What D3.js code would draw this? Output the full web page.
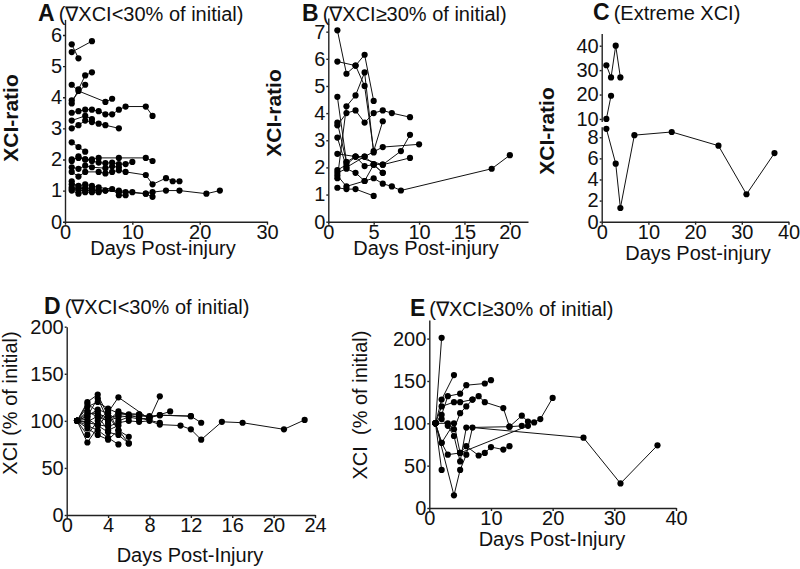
<!DOCTYPE html>
<html><head><meta charset="utf-8">
<script src="https://cdn.jsdelivr.net/npm/d3@7"></script>
<style>
body{margin:0;background:#fff;}
text{font-family:"Liberation Sans",Arial,sans-serif;fill:#111;}
</style></head>
<body><svg id="c" width="800" height="569"></svg>
<script>
// ---------- DATA ----------
// Panel A: XCI-ratio, decline <30% of initial (each series = [[day, ratio], ...])
const panelA = [
  [[1,5.7],[2,5.25]],
  [[1,5.45],[4,5.8]],
  [[1,3.8],[2,4.25],[3,4.7],[4,4.8]],
  [[1,4.4],[2,4.2],[6,3.85],[7,3.95]],
  [[1,3.9],[3,4.4]],
  [[1,3.5],[2,3.55],[3,3.6],[4,3.6],[5,3.55],[6,3.45],[7,3.45],[8,3.6],[9,3.7],[12,3.7],[13,3.4]],
  [[1,3.25],[3,3.4],[4,3.3]],
  [[1,3.0],[2,3.1],[3,3.25],[4,3.2],[5,3.15],[6,3.1],[8,3.0]],
  [[1,2.55],[2,2.4],[3,2.25]],
  [[1,2.0],[2,2.05],[3,2.0],[4,2.0],[5,2.05],[8,2.05],[12,2.05],[13,1.95]],
  [[1,1.95],[2,2.1],[3,2.0],[4,1.95],[5,1.9],[6,1.88],[7,1.9],[8,1.85],[9,1.85],[10,1.92]],
  [[1,1.75],[2,1.7],[3,1.8],[4,1.75],[6,1.72],[7,1.78],[8,1.75]],
  [[1,1.6],[2,1.45],[3,1.6],[5,1.6],[6,1.55],[7,1.6],[8,1.65],[9,1.6],[12,1.5],[13,1.2],[15,1.4],[16,1.3],[17,1.3]],
  [[1,1.05],[2,1.0],[3,1.0],[4,1.0],[5,1.0],[6,1.0],[8,1.0],[10,0.95],[12,0.9],[13,0.95],[15,1.0],[17,1.0],[21,0.9],[23,1.0]],
  [[1,1.2],[2,1.15],[3,1.2],[4,1.15],[5,1.1],[7,1.05],[8,0.85],[9,0.85]],
  [[1,1.3],[2,1.1],[3,1.05],[4,1.1],[5,1.0]],
  [[1,1.0],[2,0.9],[3,0.95],[4,0.95],[5,0.95],[6,1.0],[8,0.95],[9,0.95],[12,0.9],[13,0.8]],
  [[1,1.1],[2,1.05],[3,1.1],[4,1.0]]
];
// Panel B: XCI-ratio, decline >=30% of initial
const panelB = [
  [[1,7.05],[2,5.45],[3,5.75],[4,6.15],[5,4.45]],
  [[1,5.9],[3,5.75],[4,5.0],[5,2.6],[6,3.7]],
  [[1,1.6],[2,4.25],[3,4.65],[4,5.5],[5,2.55]],
  [[1,4.6],[2,2.2],[3,2.4],[4,2.05],[5,2.1],[6,1.8]],
  [[1,3.55],[2,4.0],[3,4.1],[4,3.65],[5,4.0],[6,4.1],[7,4.0],[9,3.85]],
  [[1,3.1],[2,2.0],[4,2.4],[6,2.75],[10,2.85]],
  [[1,2.5],[3,2.4],[4,2.4],[5,2.12],[6,2.1],[8,2.6],[9,3.2]],
  [[1,1.9],[2,2.1],[3,2.4],[6,2.1],[9,2.35]],
  [[1,1.8],[2,1.95],[3,1.8],[4,1.5],[5,1.6],[6,1.4],[7,1.3],[8,1.15],[18,1.95],[20,2.45]],
  [[1,1.7],[2,1.3],[4,1.5],[5,2.1],[6,1.8]],
  [[1,1.25],[2,1.2],[3,1.2],[5,0.95]],
  [[1,3.65],[2,2.2]]
];
// Panel C: extreme XCI (broken y axis)
const panelCLower = [
  [[1,8.8],[3,5.5],[4,1.3],[7,8.2],[15,8.5],[25,7.2],[31,2.6],[37,6.5]]
];
const panelCUpper = [
  [[1,32],[2,27],[3,40],[4,27]],
  [[1,10],[2,19.5]]
];
// Panel D: XCI % of initial, decline <30%
const panelD = [
  [[1,100],[2,77],[5,125],[8,102],[9,126]],
  [[1,100],[2,120],[3,128],[4,105],[6,76]],
  [[1,100],[2,110],[3,104],[4,100],[5,104],[6,105],[7,105],[8,105],[9,106],[12,105],[13,98]],
  [[1,100],[2,95],[3,90],[4,82],[5,75]],
  [[1,100],[2,105],[3,112],[4,108],[5,100],[6,104],[7,102],[8,103],[10,110]],
  [[1,100],[2,98],[3,96],[4,94],[5,98],[6,100],[7,99],[8,100],[9,96],[11,95],[12,91],[13,80],[15,99],[17,98],[21,91],[23,101]],
  [[1,100],[2,85],[3,100],[4,110],[5,90],[6,83]],
  [[1,100],[2,115],[3,120],[4,113],[5,108],[7,107],[8,104]],
  [[1,100],[2,102],[3,95],[4,88],[5,85],[6,76]],
  [[1,100],[2,108],[3,108],[4,103],[5,106],[6,107],[7,107],[8,104],[9,106],[12,105]],
  [[1,100],[2,92],[3,85],[4,80],[5,90]],
  [[1,100],[2,118],[3,110],[4,97]],
  [[1,100],[2,105],[3,124],[4,100],[5,110],[7,103],[9,98]],
  [[1,100],[2,99],[3,105],[4,90],[5,95]]
];
// Panel E: XCI % of initial, decline >=30%
const panelE = [
  [[1,100],[2,201]],
  [[1,100],[2,45]],
  [[1,100],[4,15],[5,45],[6,63],[7,95],[25,83],[31,29],[37,74]],
  [[1,100],[2,128],[4,157]],
  [[1,100],[2,110],[3,132],[5,135],[6,145],[9,147],[10,151]],
  [[1,100],[2,120],[4,125],[5,125],[7,128],[8,132],[9,125],[12,118],[13,96],[15,109],[16,102],[17,101],[18,105],[20,130]],
  [[1,100],[2,77],[3,63],[5,65],[6,73],[8,62],[9,65],[10,72],[12,69],[13,73]],
  [[1,100],[3,100],[4,93],[5,112],[6,120],[7,128]],
  [[1,100],[2,105],[3,97],[4,85],[5,55],[6,95],[13,96],[15,97]],
  [[1,100],[2,77],[4,100],[5,65],[16,97]]
];
// Tick labels
const ticksAy = [0,1,2,3,4,5,6], ticksAx = [0,10,20,30];
const ticksBy = [0,1,2,3,4,5,6,7], ticksBx = [0,5,10,15,20];
const ticksCyLow = [0,2,4,6,8], ticksCyUp = [10,20,30,40], ticksCx = [0,10,20,30,40];
const ticksDy = [0,50,100,150,200], ticksDx = [0,4,8,12,16,20,24];
const ticksEy = [0,50,100,150,200], ticksEx = [0,10,20,30,40];

// ---------- DRAW ----------
const svg = d3.select("#c");
const FS = 20;
const fmt = d3.format("d");

function axisStyle(g){
  g.selectAll("path,line").attr("stroke","#222").attr("stroke-width",1.4);
  g.selectAll("text").attr("font-size",FS).attr("fill","#111")
   .attr("font-family","'Liberation Sans',Arial,sans-serif");
}
function bottomAxis(x, ticks){
  return d3.axisBottom(x).tickValues(ticks).tickFormat(fmt).tickSize(3).tickPadding(0).tickSizeOuter(0);
}
function leftAxis(y, ticks){
  return d3.axisLeft(y).tickValues(ticks).tickFormat(fmt).tickSize(2).tickPadding(1).tickSizeOuter(0);
}
function drawSeries(series, x, y){
  const line = d3.line().x(d=>x(d[0])).y(d=>y(d[1]));
  const g = svg.append("g");
  g.selectAll("path.s").data(series).join("path")
    .attr("d", line).attr("fill","none").attr("stroke","#111").attr("stroke-width",1);
  g.selectAll("circle").data(series.flat()).join("circle")
    .attr("cx",d=>x(d[0])).attr("cy",d=>y(d[1])).attr("r",3.1).attr("fill","#000");
}
function panel(o){
  const x = d3.scaleLinear().domain(o.xd).range(o.xr);
  const y = d3.scaleLinear().domain(o.yd).range(o.yr);
  axisStyle(svg.append("g").attr("transform",`translate(0,${o.yr[0]})`).call(bottomAxis(x,o.xt)));
  axisStyle(svg.append("g").attr("transform",`translate(${o.xr[0]},0)`).call(leftAxis(y,o.yt)));
  drawSeries(o.data, x, y);
  return {x,y};
}
function label(t, x, y, opts={}){
  const el = svg.append("text").attr("x",x).attr("y",y).text(t)
    .attr("font-size",opts.fs||FS).attr("font-weight",opts.bold?"bold":"normal")
    .attr("text-anchor",opts.anchor||"start");
  if(opts.rot) el.attr("transform",`rotate(-90,${x},${y})`);
  return el;
}
function title(letter, sub, x, y){
  const t = svg.append("text").attr("x",x).attr("y",y).attr("font-size",20);
  t.append("tspan").attr("font-weight","bold").attr("font-size",23).text(letter);
  t.append("tspan").attr("dx",4).text(sub);
}

// A
panel({xd:[0,30],xr:[65,267],yd:[0,6.5],yr:[221.7,19.4],xt:ticksAx,yt:ticksAy,data:panelA});
title("A","(\u2207XCI<30% of initial)",38,21);
label("Days Post-injury",163,255,{anchor:"middle",fs:20});
label("XCI-ratio",18,118,{anchor:"middle",bold:true,rot:true,fs:21});

// B
panel({xd:[0,22],xr:[328.3,528],yd:[0,7.5],yr:[221.7,18.1],xt:ticksBx,yt:ticksBy,data:panelB});
title("B","(\u2207XCI\u226530% of initial)",302,21);
label("Days Post-injury",426,255,{anchor:"middle",fs:20});
label("XCI-ratio",281,113,{anchor:"middle",bold:true,rot:true,fs:21});

// C (broken axis)
{
  const x = d3.scaleLinear().domain([0,40]).range([601.7,788.5]);
  const yl = d3.scaleLinear().domain([0,9]).range([221.7,126.7]);
  const yu = d3.scaleLinear().domain([9,45]).range([121.4,33.5]);
  axisStyle(svg.append("g").attr("transform","translate(0,221.7)").call(bottomAxis(x,ticksCx)));
  axisStyle(svg.append("g").attr("transform","translate(601.7,0)").call(leftAxis(yl,ticksCyLow)));
  axisStyle(svg.append("g").attr("transform","translate(601.7,0)").call(leftAxis(yu,ticksCyUp)));
  drawSeries(panelCLower, x, yl);
  drawSeries(panelCUpper, x, yu);
}
title("C","(Extreme XCI)",593,20);
label("Days Post-injury",698,260,{anchor:"middle",fs:20});
label("XCI-ratio",554,131,{anchor:"middle",bold:true,rot:true,fs:21});

// D
panel({xd:[0,24],xr:[66.7,315],yd:[0,200],yr:[515,326.7],xt:ticksDx,yt:ticksDy,data:panelD});
title("D","(\u2207XCI<30% of initial)",44,314);
label("Days Post-Injury",190,562,{anchor:"middle",fs:20});
label("XCI (% of initial)",17,403,{anchor:"middle",rot:true,fs:20});

// E
panel({xd:[0,40],xr:[429.3,676],yd:[0,222],yr:[508,320],xt:ticksEx,yt:ticksEy,data:panelE});
title("E","(\u2207XCI\u226530% of initial)",410,316);
label("Days Post-Injury",552,546,{anchor:"middle",fs:20});
label("XCI  (% of initial)",367,405,{anchor:"middle",rot:true,fs:20}).style("white-space","pre");
</script></body></html>
